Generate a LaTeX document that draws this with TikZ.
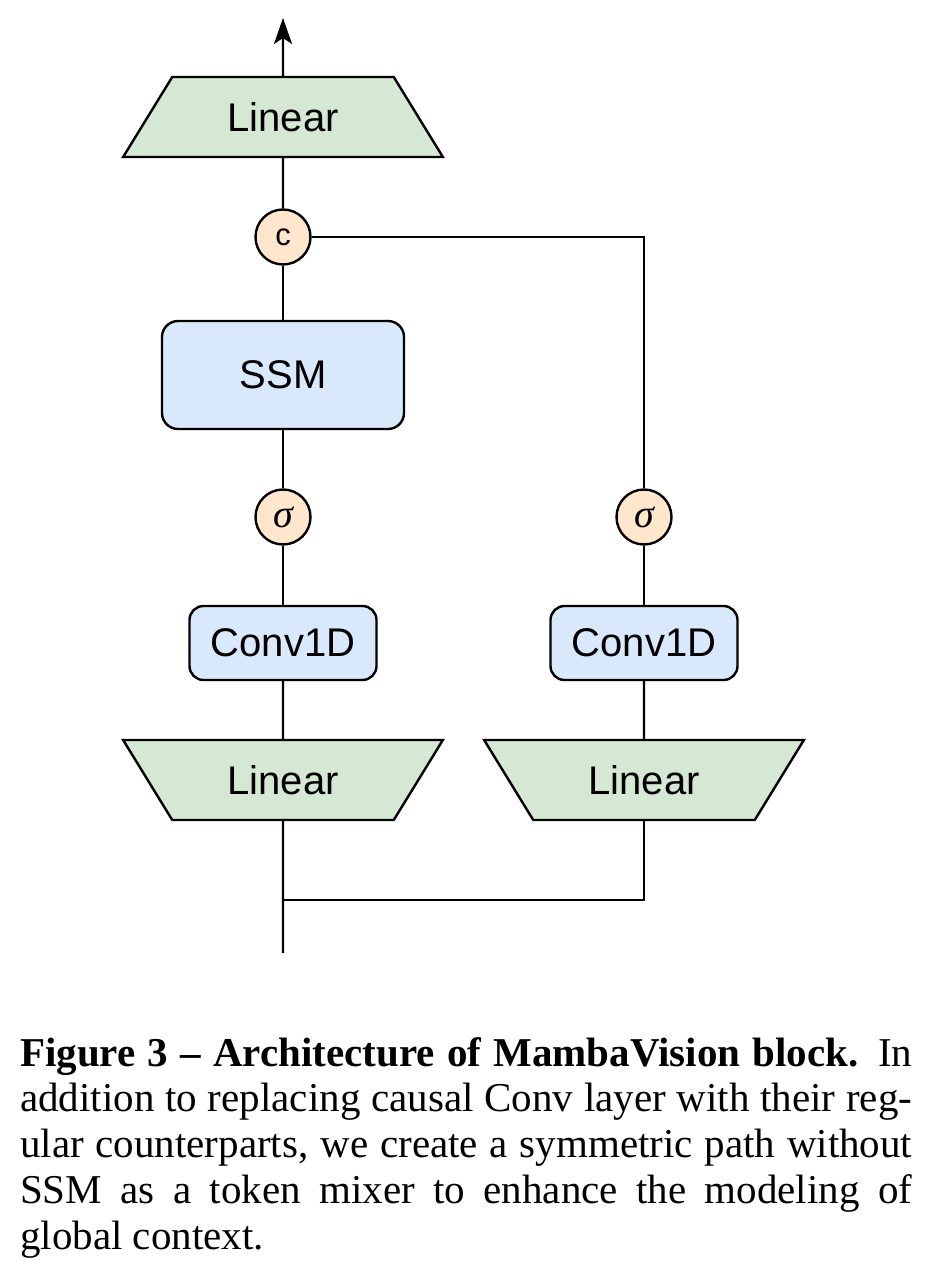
\documentclass[tikz,border=0pt]{standalone}
\usepackage{fontspec}
\setmainfont{Liberation Serif}
\newfontfamily\blockfont{Liberation Sans}
\usetikzlibrary{shapes.geometric,arrows.meta}

\definecolor{linfill}{HTML}{D5E8D4}
\definecolor{opfill}{HTML}{DAE8FC}
\definecolor{actfill}{HTML}{FFE6CC}

\tikzset{
	wire/.style={line width=2.4pt, black},
	linup/.style={trapezium, trapezium stretches=true,
		trapezium left angle=50, trapezium right angle=50,
		minimum width=320pt, minimum height=80pt, inner sep=0pt,
		draw, line width=2.4pt, fill=linfill,
		font=\blockfont\fontsize{40}{48}\selectfont},
	lindown/.style={linup, trapezium left angle=130, trapezium right angle=130},
	opbox/.style={rectangle, rounded corners=14pt, draw, line width=2.4pt,
		fill=opfill, inner sep=0pt,
		font=\blockfont\fontsize{40}{48}\selectfont},
	act/.style={circle, minimum size=55pt, inner sep=0pt, draw,
		line width=2.4pt, fill=actfill}
}

\begin{document}
\begin{tikzpicture}[x=1pt, y=-1pt]
	\useasboundingbox (0,0) rectangle (931,1273);

	% Output projection and concat
	\node[linup] (lintop) at (283,117) {Linear};
	\node[act, font=\blockfont\fontsize{31}{36}\selectfont] (cat) at (283,237) {c};
	\coordinate (out) at (283,18);

	% SSM path
	\node[opbox, minimum width=242pt, minimum height=108pt, rounded corners=16pt] (ssm) at (283,375) {SSM};
	\node[act, font=\fontsize{40}{48}\selectfont\itshape] (sigl) at (283,517) {σ};
	\node[opbox, minimum width=187pt, minimum height=74pt] (convl) at (283,643) {Conv1D};
	\node[lindown] (linl) at (283,780) {Linear};

	% Symmetric path without SSM
	\node[act, font=\fontsize{40}{48}\selectfont\itshape] (sigr) at (644,517) {σ};
	\node[opbox, minimum width=187pt, minimum height=74pt] (convr) at (644,643) {Conv1D};
	\node[lindown] (linr) at (644,780) {Linear};

	% Input split
	\coordinate (in) at (283,953);
	\coordinate (split) at (283,900);

	% Connections
	\draw[wire, -{Stealth[length=26pt, width=18pt, inset=6pt]}] (lintop.north) -- (out);
	\draw[wire] (cat) -- (lintop.south);
	\draw[wire] (ssm) -- (cat);
	\draw[wire] (sigl) -- (ssm);
	\draw[wire] (convl) -- (sigl);
	\draw[wire] (linl.north) -- (convl);
	\draw[wire] (in) -- (linl.south);
	\draw[wire] (split) -| (linr.south);
	\draw[wire] (linr.north) -- (convr);
	\draw[wire] (convr) -- (sigr);
	\draw[wire] (sigr) |- (cat);

	% Caption
	\node[anchor=north west, inner sep=0pt, text width=892pt, align=justify,
		font=\fontsize{41}{45.8}\selectfont] (caption) at (20,1037)
		{\hyphenpenalty=10000 \textbf{Figure 3 -- Architecture of MambaVision block.} In\linebreak
		addition to replacing causal Conv layer with their reg-\linebreak
		ular counterparts, we create a symmetric path without\linebreak
		SSM as a token mixer to enhance the modeling of\linebreak
		global context.};
\end{tikzpicture}
\end{document}
